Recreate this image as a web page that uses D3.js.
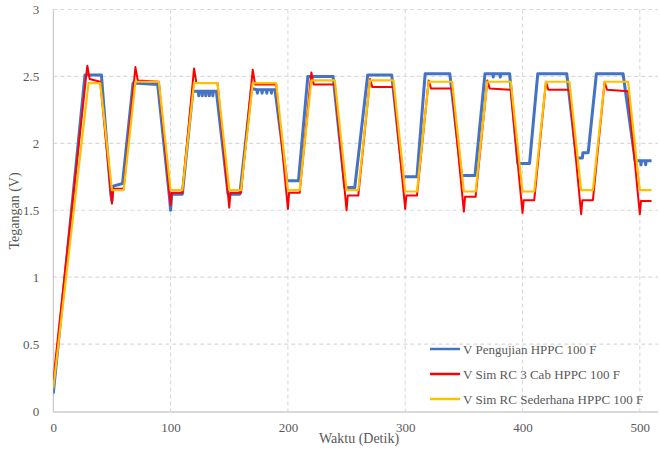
<!DOCTYPE html>
<html>
<head>
<meta charset="utf-8">
<script src="https://cdn.jsdelivr.net/npm/d3@7"></script>
<style>
  html, body { margin: 0; padding: 0; background: #ffffff; }
  svg { display: block; }
  text { font-family: "Liberation Serif", "Times New Roman", serif; fill: #595959; }
</style>
</head>
<body>
<svg id="chart" width="660" height="450"></svg>
<script>
// Axis ticks
const xTicks = [0, 100, 200, 300, 400, 500];
const yTicks = [0, 0.5, 1, 1.5, 2, 2.5, 3];

// Series names
const seriesNames = [
  "V Pengujian HPPC 100 F",
  "V Sim RC 3 Cab HPPC 100 F",
  "V Sim RC Sederhana HPPC 100 F"
];
const seriesColors = ["#4472c4", "#ff0000", "#ffc000"];

// Measured voltage (breakpoints, seconds / volts)
const testTime = [0, 27, 41, 49, 50, 51, 59, 68, 89, 99, 100, 101, 110, 119,
  123.6, 124, 124.4, 126.6, 127, 127.4, 129.6, 130, 130.4, 132.6, 133, 133.4, 135.6, 136, 136.4,
  139, 149, 159, 169,
  173.6, 174, 174.4, 177.6, 178, 178.4, 181.6, 182, 182.4, 185.6, 186, 186.4,
  189, 199, 209, 217, 238.5, 248.5, 257, 268, 288.5, 298, 310, 317, 338, 348, 359.5,
  368, 374.6, 375, 375.4, 380.6, 381, 381.4, 389, 396, 406, 413, 437.7, 446, 451, 451.5, 456,
  463, 485.7, 496, 500.6, 501, 501.4, 504.6, 505, 505.4, 510];
const testVolt = [0.13, 2.51, 2.51, 1.62, 1.57, 1.68, 1.70, 2.45, 2.44, 1.60, 1.50, 1.62, 1.62, 2.39,
  2.39, 2.355, 2.39, 2.39, 2.355, 2.39, 2.39, 2.355, 2.39, 2.39, 2.355, 2.39, 2.39, 2.355, 2.39,
  2.39, 1.62, 1.62, 2.41,
  2.40, 2.375, 2.40, 2.40, 2.375, 2.40, 2.40, 2.375, 2.40, 2.40, 2.375, 2.40,
  2.40, 1.72, 1.72, 2.50, 2.50, 1.67, 1.67, 2.51, 2.51, 1.75, 1.75, 2.52, 2.52, 1.76, 1.76,
  2.52, 2.52, 2.495, 2.52, 2.52, 2.495, 2.52, 2.52, 1.85, 1.85, 2.52, 2.52, 1.89, 1.89, 1.93, 1.93,
  2.52, 2.52, 1.87, 1.87, 1.84, 1.87, 1.87, 1.84, 1.87, 1.87];

// Three-branch RC simulation
const rc3Time = [0, 29, 31, 40, 50, 51, 60, 70, 72, 90, 100, 101, 110, 120, 122, 140, 150, 151, 160,
  170, 172, 190, 200, 201, 210, 220, 222, 240, 250, 251, 260, 270, 272, 290, 300, 301, 310,
  320, 322, 340, 350, 351, 360, 370, 372, 390, 400, 401, 410, 420, 422, 440, 450, 451, 460,
  470, 472, 490, 500, 501, 510];
const rc3Volt = [0.23, 2.58, 2.48, 2.46, 1.55, 1.66, 1.66, 2.57, 2.47, 2.46, 1.54, 1.63, 1.63, 2.56, 2.45, 2.45, 1.52, 1.63, 1.63,
  2.55, 2.44, 2.44, 1.51, 1.63, 1.63, 2.53, 2.44, 2.44, 1.50, 1.61, 1.61, 2.48, 2.42, 2.42, 1.51, 1.61, 1.61,
  2.47, 2.41, 2.41, 1.49, 1.60, 1.60, 2.47, 2.41, 2.40, 1.48, 1.575, 1.575, 2.46, 2.40, 2.40, 1.47, 1.575, 1.575,
  2.46, 2.40, 2.39, 1.47, 1.57, 1.57];

// Simple RC simulation
const rcTime = [0, 30, 40, 50, 60, 70, 90, 100, 110, 120, 140, 150, 160, 170, 190, 200, 210,
  220, 240, 250, 260, 270, 290, 300, 310, 320, 340, 350, 360, 370, 390, 400, 410,
  420, 440, 450, 460, 470, 490, 500, 510];
const rcVolt = [0.17, 2.45, 2.45, 1.65, 1.65, 2.46, 2.46, 1.65, 1.65, 2.45, 2.45, 1.65, 1.65, 2.45, 2.45, 1.65, 1.65,
  2.47, 2.47, 1.65, 1.65, 2.47, 2.47, 1.64, 1.64, 2.46, 2.46, 1.64, 1.64, 2.46, 2.46, 1.64, 1.64,
  2.46, 2.46, 1.65, 1.65, 2.46, 2.46, 1.65, 1.65];

const series = [
  { time: testTime, volt: testVolt, width: 3 },
  { time: rc3Time, volt: rc3Volt, width: 2 },
  { time: rcTime, volt: rcVolt, width: 2.2 }
];

const svg = d3.select("#chart");
const plotLeft = 53.3, plotRight = 658, plotTop = 9.5, plotBottom = 411;

const x = d3.scaleLinear().domain([0, 515.5]).range([plotLeft, plotRight]);
const y = d3.scaleLinear().domain([0, 3]).range([plotBottom, plotTop]);

// Gridlines
const grid = svg.append("g");
grid.selectAll("line.h").data(yTicks.filter(d => d > 0)).join("line")
  .attr("class", "h")
  .attr("x1", plotLeft).attr("x2", plotRight)
  .attr("y1", d => y(d)).attr("y2", d => y(d))
  .attr("stroke", "#d9d9d9").attr("stroke-width", 1.1).attr("stroke-dasharray", "4,3");
grid.selectAll("line.v").data(xTicks.filter(d => d > 0)).join("line")
  .attr("class", "v")
  .attr("y1", plotTop).attr("y2", plotBottom)
  .attr("x1", d => x(d)).attr("x2", d => x(d))
  .attr("stroke", "#d9d9d9").attr("stroke-width", 1.1).attr("stroke-dasharray", "4,3");

// Axis lines
svg.append("line").attr("x1", plotLeft).attr("x2", plotLeft).attr("y1", plotTop).attr("y2", plotBottom + 1)
  .attr("stroke", "#bfbfbf").attr("stroke-width", 1);
svg.append("line").attr("x1", plotLeft).attr("x2", plotRight).attr("y1", plotBottom + 1).attr("y2", plotBottom + 1)
  .attr("stroke", "#d9d9d9").attr("stroke-width", 2);

// Tick labels via axes (no domain / tick lines)
const yAxis = svg.append("g").attr("transform", `translate(${plotLeft - 11},0)`)
  .call(d3.axisLeft(y).tickValues(yTicks).tickSize(0).tickFormat(d3.format("~g")));
const xAxis = svg.append("g").attr("transform", `translate(0,${plotBottom + 9})`)
  .call(d3.axisBottom(x).tickValues(xTicks).tickSize(0).tickFormat(d3.format("d")));
[yAxis, xAxis].forEach(a => {
  a.select(".domain").remove();
  a.selectAll("text").attr("font-family", '"Liberation Serif", serif')
    .attr("font-size", 13).attr("fill", "#595959");
});

// Series lines
svg.append("clipPath").attr("id", "plotClip").append("rect")
  .attr("x", plotLeft).attr("y", 0).attr("width", plotRight - plotLeft).attr("height", plotBottom + 2);
const line = d3.line().x(d => x(d[0])).y(d => y(d[1]));
const plot = svg.append("g").attr("clip-path", "url(#plotClip)");
series.forEach((s, i) => {
  plot.append("path")
    .datum(s.time.map((t, j) => [t, s.volt[j]]))
    .attr("d", line)
    .attr("fill", "none")
    .attr("stroke", seriesColors[i])
    .attr("stroke-width", s.width)
    .attr("stroke-linejoin", "round");
});

// Axis titles
svg.append("text").attr("x", 359).attr("y", 443).attr("text-anchor", "middle")
  .attr("font-size", 14).text("Waktu (Detik)");
svg.append("text").attr("transform", "translate(19,211) rotate(-90)").attr("text-anchor", "middle")
  .attr("font-size", 14).text("Tegangan (V)");

// Legend
const legend = svg.append("g");
const legendY = [349, 374, 399];
seriesNames.forEach((name, i) => {
  legend.append("line").attr("x1", 430).attr("x2", 460)
    .attr("y1", legendY[i]).attr("y2", legendY[i])
    .attr("stroke", seriesColors[i]).attr("stroke-width", 2.5);
  legend.append("text").attr("x", 463).attr("y", legendY[i] + 4.5)
    .attr("font-size", 13).text(name);
});
</script>
</body>
</html>
